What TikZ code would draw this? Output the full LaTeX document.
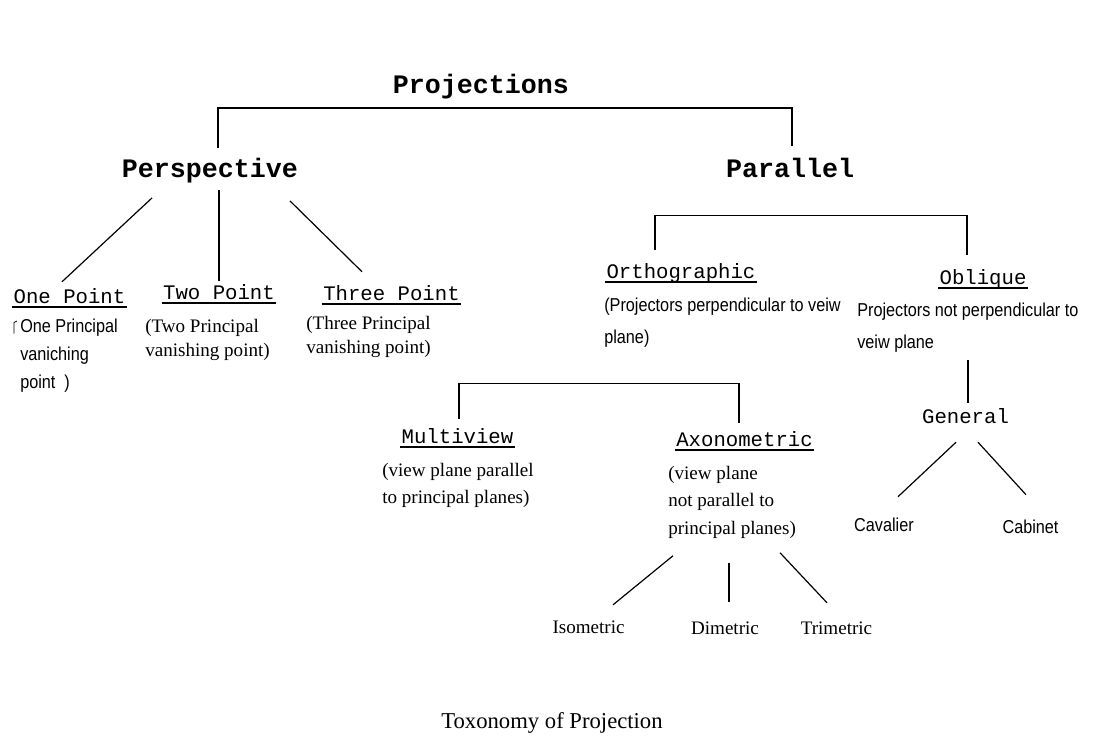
\documentclass[tikz,border=0pt]{standalone}
\usepackage{fontspec}
\setmainfont{Liberation Serif}
\newfontfamily\monofont{Liberation Mono}
\newfontfamily\narrowfont[FakeStretch=0.87]{Liberation Sans}
\usetikzlibrary{calc}
\tikzset{
  ttl/.style={font=\monofont\bfseries\fontsize{20}{24}\selectfont, inner sep=0pt, text height=14pt, text depth=5pt, anchor=base},
  lbl/.style={font=\monofont\fontsize{15.5}{18}\selectfont, inner xsep=1pt, inner ysep=0pt, text height=10.85pt, text depth=2.6pt, anchor=base},
  ul/.style={lbl, append after command={(\tikzlastnode.south west) edge[line width=1.2pt] (\tikzlastnode.south east)}},
  narrowtxt/.style={font={\narrowfont\fontsize{14}{#1}\selectfont}, align=left, anchor=north west, inner sep=0pt},
  seriftxt/.style={font={\fontsize{14.3}{#1}\selectfont}, align=left, anchor=north west, inner sep=0pt},
  serifleaf/.style={font=\fontsize{14.3}{17}\selectfont, anchor=base, inner sep=0pt, text height=9.7pt, text depth=2.9pt},
  narrowleaf/.style={font=\narrowfont\fontsize{14}{17}\selectfont, anchor=base, inner sep=0pt, text height=10pt, text depth=3pt},
  conn/.style={draw=black, line width=0.9pt}
}
\begin{document}
\begin{tikzpicture}[x=0.75pt, y=-0.75pt]
\fill[white] (0,0) rectangle (1098,750);
\useasboundingbox (0,0) rectangle (1098,750);

% titles
\node[ttl] (proj) at (481,93) {Projections};
\node[ttl] (persp) at (210,177) {Perspective};
\node[ttl] (para) at (790,177) {Parallel};

% perspective branch
\node[ul] (onept) at (69.5,303) {One Point};
\node[ul] (twopt) at (219,299) {Two Point};
\node[ul] (threept) at (391.5,300) {Three Point};
\node[narrowtxt=21] (onetext) at (20,319) {One Principal\\vaniching\\point\ \ )};
\node[seriftxt=18] (twotext) at (145,319) {(Two Principal\\vanishing point)};
\node[seriftxt=18] (threetext) at (306,316) {(Three Principal\\vanishing point)};
\draw[line width=0.6pt] ($(onetext.north west)+(-3,2)$) -- ++(-3,1.5) -- ++(0,11);

% parallel branch
\node[ul] (ortho) at (681,278) {Orthographic};
\node[ul] (obl) at (983,284) {Oblique};
\node[narrowtxt=24] (orthotext) at (604,298) {(Projectors perpendicular to veiw\\plane)};
\node[narrowtxt=24] (obltext) at (857,303) {Projectors not perpendicular to\\veiw plane};

\node[ul] (mv) at (457.5,443.5) {Multiview};
\node[ul] (axo) at (744.5,446.5) {Axonometric};
\node[seriftxt=20.25] (mvtext) at (382,463) {(view plane parallel\\to principal planes)};
\node[seriftxt=20.6] (axtext) at (668,466) {(view plane\\not parallel to\\principal planes)};

\node[serifleaf] (iso) at (588.5,633) {Isometric};
\node[serifleaf] (dim) at (725,634) {Dimetric};
\node[serifleaf] (tri) at (836.5,634) {Trimetric};

\node[lbl] (gen) at (965.5,423.5) {General};
\node[narrowleaf] (cav) at (884,531.5) {Cavalier};
\node[narrowleaf] (cab) at (1030.5,533.5) {Cabinet};

\node[font=\fontsize{17}{20}\selectfont, inner sep=0pt] (cap) at (552,723) {Toxonomy of Projection};

% connectors
\draw[conn] ($(persp.north)+(8,-10)$) |- ($(proj.south)+(0,8)$) -| ($(para.north)+(2,-12)$);
\draw[conn] ($(persp.south)+(-58,14)$) -- ($(onept.north)+(-7.5,-6.5)$);
\draw[conn] ($(persp.south)+(9,6)$) -- ($(twopt.north)+(0,-3)$);
\draw[conn] ($(persp.south)+(80,17)$) -- ($(threept.north)+(-29.5,-13.5)$);

\draw[conn] ($(ortho.north)+(-26,-13.5)$) |- ($(para.south)+(0,31.3)$) -| ($(obl.north)+(-16,-14.5)$);
\draw[conn] ($(obltext.south -| gen.north)+(2.5,7)$) -- ($(gen.north)+(2.5,-6)$);
\draw[conn] ($(mv.north)+(1.5,-10)$) -- ++(0,-35) -| ($(axo.north)+(-5.5,-9)$);

\draw[conn] ($(axtext.south west)+(5,17)$) -- ($(iso.north)+(24.5,-15)$);
\draw[conn] ($(axtext.south west)+(61,24)$) -- ($(dim.north)+(4,-19)$);
\draw[conn] ($(axtext.south west)+(112,14)$) -- ($(tri.north)+(-9.5,-18)$);

\draw[conn] ($(gen.south)+(-9.5,15)$) -- ($(cav.north)+(14,-21.2)$);
\draw[conn] ($(gen.south)+(12.5,15)$) -- ($(cab.north)+(-4.5,-25.2)$);
\end{tikzpicture}
\end{document}
